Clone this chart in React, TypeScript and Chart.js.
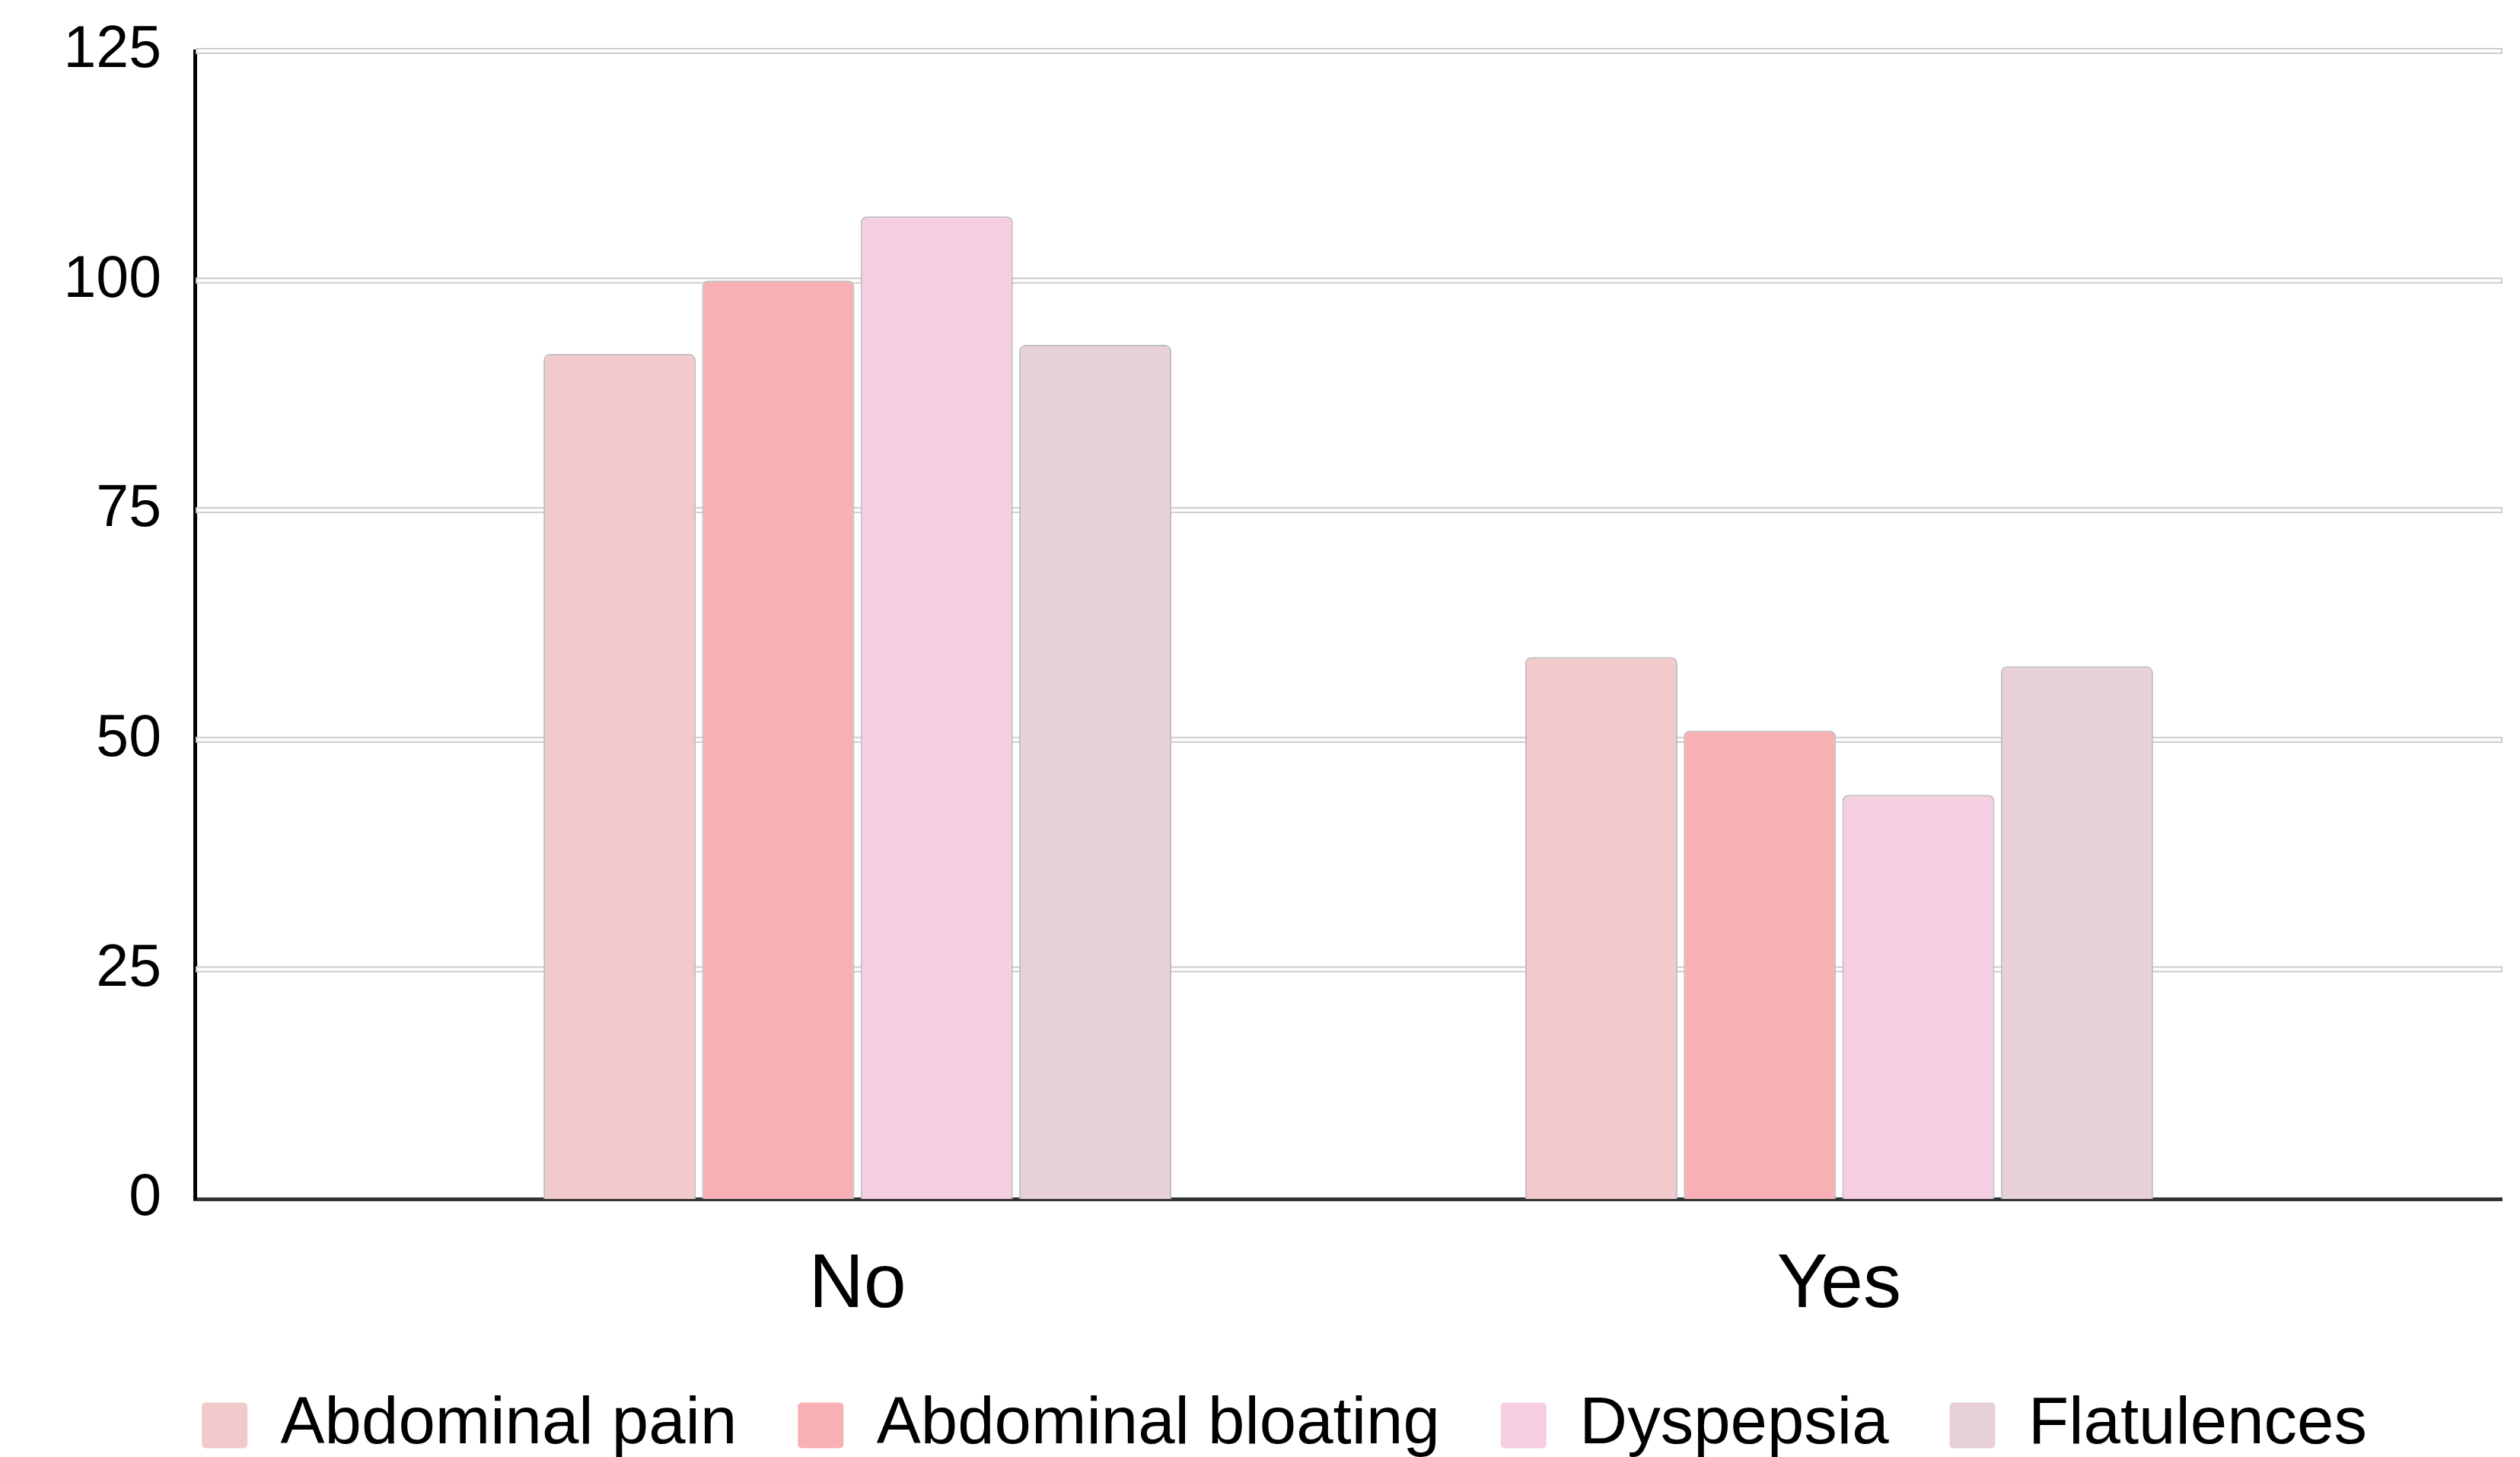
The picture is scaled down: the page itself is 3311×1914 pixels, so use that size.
import React, { useEffect, useRef } from "react";
import { Chart, registerables } from "chart.js";

Chart.register(...registerables);

const categories = ["No", "Yes"];
const seriesNames = ["Abdominal pain", "Abdominal bloating", "Dyspepsia", "Flatulences"];
const abdominalPain = [92, 59];
const abdominalBloating = [100, 51];
const dyspepsia = [107, 44];
const flatulences = [93, 58];
const seriesColors = ["#f2cacc", "#f9b0b5", "#f6cee1", "#e8d0da"];
const yTicks = [0, 25, 50, 75, 100, 125];

const FONT = "'Liberation Sans', Arial, sans-serif";

const doubleGrid = {
  id: "doubleGrid",
  beforeDatasetsDraw(chart: any) {
    const { ctx, chartArea, scales } = chart;
    const y = scales.y;
    ctx.save();
    ctx.strokeStyle = "#cccccc";
    ctx.lineWidth = 2;
    y.ticks.forEach((t: any) => {
      if (t.value === 0) return;
      const py = y.getPixelForValue(t.value);
      ctx.strokeRect(chartArea.left + 2, py - 3, chartArea.right - chartArea.left - 2, 6);
    });
    ctx.restore();
  },
};

export default function App() {
  const ref = useRef<HTMLCanvasElement | null>(null);
  useEffect(() => {
    if (!ref.current) return;
    const allSeries = [abdominalPain, abdominalBloating, dyspepsia, flatulences];
    const chart = new Chart(ref.current, {
      type: "bar",
      data: {
        datasets: allSeries.map((vals, si) => ({
          label: seriesNames[si],
          data: categories.map((_, i) => ({ x: i, y: vals[i] })),
          backgroundColor: seriesColors[si],
          borderColor: "#bdbdbd",
          borderWidth: 2,
          borderRadius: { topLeft: 8, topRight: 8, bottomLeft: 0, bottomRight: 0 },
          borderSkipped: "bottom",
          categoryPercentage: 0.646,
          barPercentage: 0.96,
        })),
      },
      options: {
        responsive: false,
        animation: false,
        devicePixelRatio: 1,
        layout: { padding: { left: 88, right: 24, top: 67, bottom: -12 } },
        plugins: {
          tooltip: { enabled: false },
          legend: {
            position: "bottom",
            labels: {
              color: "#000",
              font: { family: FONT, size: 87 },
              boxWidth: 60,
              boxHeight: 60,
              padding: 80,
              useBorderRadius: true,
              borderRadius: 5,
              generateLabels: (ch: any) =>
                (Chart.defaults as any).plugins.legend.labels
                  .generateLabels(ch)
                  .map((l: any) => ({ ...l, lineWidth: 0 })),
            },
          },
        },
        scales: {
          x: {
            type: "linear",
            offset: false,
            min: -0.675,
            max: 1.675,
            afterBuildTicks: (axis: any) => {
              axis.ticks = categories.map((_, i) => ({ value: i }));
            },
            afterFit: (s: any) => {
              s.height = 174;
              s.paddingLeft = 0;
              s.paddingRight = 0;
            },
            ticks: {
              autoSkip: false,
              maxRotation: 0,
              padding: 54,
              color: "#000",
              font: { family: FONT, size: 100 },
              callback: (v: any) => categories[v] ?? "",
            },
            grid: { display: false, drawTicks: false },
            border: { display: true, color: "#333333", width: 5 },
          },
          y: {
            min: 0,
            max: 125,
            afterBuildTicks: (axis: any) => {
              axis.ticks = yTicks.map((v) => ({ value: v }));
            },
            afterFit: (s: any) => {
              s.width = 168;
              s.paddingTop = 0;
              s.paddingBottom = 0;
            },
            ticks: {
              padding: 44,
              color: "#000",
              font: { family: FONT, size: 77 },
            },
            grid: { display: false, drawTicks: false },
            border: { display: true, color: "#000000", width: 5 },
          },
        },
      },
      plugins: [doubleGrid],
    } as any);
    return () => chart.destroy();
  }, []);
  return (
    <div style={{ position: "fixed", left: 0, top: 0, width: 3311, height: 1914, background: "#fff" }}>
      <canvas ref={ref} width={3311} height={1914} style={{ display: "block" }} />
    </div>
  );
}
